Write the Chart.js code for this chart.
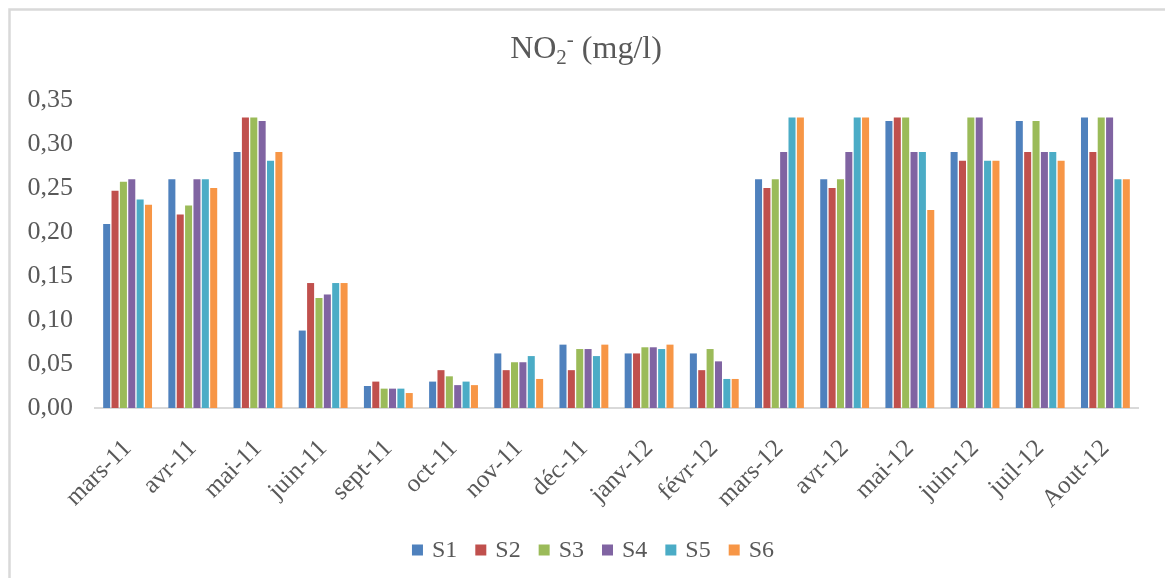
<!DOCTYPE html>
<html>
<head>
<meta charset="utf-8">
<script src="https://cdn.jsdelivr.net/npm/chart.js@4/dist/chart.umd.min.js"></script>
<style>
  html, body { margin: 0; padding: 0; background: #ffffff; }
  #wrap { width: 1165px; height: 578px; position: relative; }
</style>
</head>
<body>
<div id="wrap"><canvas id="c" width="1165" height="578"></canvas></div>
<script>
// Sampling months
const months = ['mars-11', 'avr-11', 'mai-11', 'juin-11', 'sept-11', 'oct-11', 'nov-11', 'déc-11',
                'janv-12', 'févr-12', 'mars-12', 'avr-12', 'mai-12', 'juin-12', 'juil-12', 'Aout-12'];

// NO2- concentration (mg/l) per station
const s1 = [0.209, 0.260, 0.291, 0.088, 0.025, 0.030, 0.062, 0.072, 0.062, 0.062, 0.260, 0.260, 0.326, 0.291, 0.326, 0.330];
const s2 = [0.247, 0.220, 0.330, 0.142, 0.030, 0.043, 0.043, 0.043, 0.062, 0.043, 0.250, 0.250, 0.330, 0.281, 0.291, 0.291];
const s3 = [0.257, 0.230, 0.330, 0.125, 0.022, 0.036, 0.052, 0.067, 0.069, 0.067, 0.260, 0.260, 0.330, 0.330, 0.326, 0.330];
const s4 = [0.260, 0.260, 0.326, 0.129, 0.022, 0.026, 0.052, 0.067, 0.069, 0.053, 0.291, 0.291, 0.291, 0.330, 0.291, 0.330];
const s5 = [0.237, 0.260, 0.281, 0.142, 0.022, 0.030, 0.059, 0.059, 0.067, 0.033, 0.330, 0.330, 0.291, 0.281, 0.291, 0.260];
const s6 = [0.231, 0.250, 0.291, 0.142, 0.017, 0.026, 0.033, 0.072, 0.072, 0.033, 0.330, 0.330, 0.225, 0.281, 0.281, 0.260];

const seriesNames = ['S1', 'S2', 'S3', 'S4', 'S5', 'S6'];
const seriesValues = [s1, s2, s3, s4, s5, s6];
const seriesColors = ['#4F81BD', '#C0504D', '#9BBB59', '#8064A2', '#4BACC6', '#F79646'];

// y axis range and step
const yMin = 0;
const yMax = 0.35;
const yStep = 0.05;

const TEXT = '#595959';
const SERIF = '"Liberation Serif", "DejaVu Serif", serif';

// Outer frame around the whole chart
const framePlugin = {
  id: 'frame',
  beforeDraw(chart) {
    const ctx = chart.ctx;
    ctx.save();
    ctx.fillStyle = '#ffffff';
    ctx.fillRect(0, 0, chart.width, chart.height);
    ctx.strokeStyle = '#d9d9d9';
    ctx.lineWidth = 2.5;
    ctx.strokeRect(9.5, 9.5, chart.width + 20, chart.height + 20);
    ctx.restore();
  }
};

// Title with subscript 2 and superscript minus: NO₂⁻ (mg/l)
const titlePlugin = {
  id: 'richTitle',
  afterDraw(chart) {
    const ctx = chart.ctx;
    const parts = [
      { t: 'NO', size: 32, dy: 0 },
      { t: '2', size: 21, dy: 6 },
      { t: '-', size: 21, dy: -12 },
      { t: ' (mg/l)', size: 32, dy: 0 }
    ];
    ctx.save();
    ctx.fillStyle = TEXT;
    ctx.textBaseline = 'alphabetic';
    ctx.textAlign = 'left';
    let total = 0;
    parts.forEach(p => { ctx.font = p.size + 'px ' + SERIF; p.w = ctx.measureText(p.t).width; total += p.w; });
    let x = 586 - total / 2;
    const base = 58;
    parts.forEach(p => {
      ctx.font = p.size + 'px ' + SERIF;
      ctx.fillText(p.t, x, base + p.dy);
      x += p.w;
    });
    ctx.restore();
  }
};

// Legend row at the bottom
const legendPlugin = {
  id: 'bottomLegend',
  afterDraw(chart) {
    const ctx = chart.ctx;
    const box = 11, gapBox = 9, gapItem = 18;
    ctx.save();
    ctx.font = '24px ' + SERIF;
    ctx.textBaseline = 'middle';
    ctx.textAlign = 'left';
    const widths = seriesNames.map(n => box + gapBox + ctx.measureText(n).width);
    const total = widths.reduce((a, b) => a + b, 0) + gapItem * (widths.length - 1);
    let x = 593 - total / 2;
    const cy = 550;
    seriesNames.forEach((n, i) => {
      ctx.fillStyle = seriesColors[i];
      ctx.fillRect(x, cy - box / 2, box, box);
      ctx.fillStyle = TEXT;
      ctx.fillText(n, x + box + gapBox, cy + 1);
      x += widths[i] + gapItem;
    });
    ctx.restore();
  }
};

const datasets = seriesNames.map((name, i) => ({
  label: name,
  data: seriesValues[i],
  backgroundColor: seriesColors[i],
  borderWidth: 0,
  categoryPercentage: 0.77,
  barPercentage: 0.84
}));

new Chart(document.getElementById('c'), {
  type: 'bar',
  data: { labels: months, datasets },
  plugins: [framePlugin, titlePlugin, legendPlugin],
  options: {
    responsive: false,
    animation: false,
    devicePixelRatio: 1,
    layout: { padding: { top: 100, left: 0, right: 27, bottom: 0 } },
    plugins: {
      legend: { display: false },
      title: { display: false },
      tooltip: { enabled: false }
    },
    scales: {
      x: {
        grid: { display: false, drawTicks: false },
        border: { display: true, color: '#d9d9d9', width: 2 },
        ticks: {
          color: TEXT,
          font: { family: SERIF, size: 25 },
          minRotation: 45,
          maxRotation: 45,
          autoSkip: false,
          padding: 26
        },
        afterFit(scale) { scale.height = 170; }
      },
      y: {
        min: yMin,
        max: yMax,
        grid: { display: false, drawTicks: false },
        border: { display: false },
        ticks: {
          stepSize: yStep,
          color: TEXT,
          font: { family: SERIF, size: 26 },
          padding: 22,
          callback: v => (Math.round(v * 100) / 100).toFixed(2).replace('.', ',')
        },
        afterFit(scale) { scale.width = 95; }
      }
    }
  }
});
</script>
</body>
</html>
